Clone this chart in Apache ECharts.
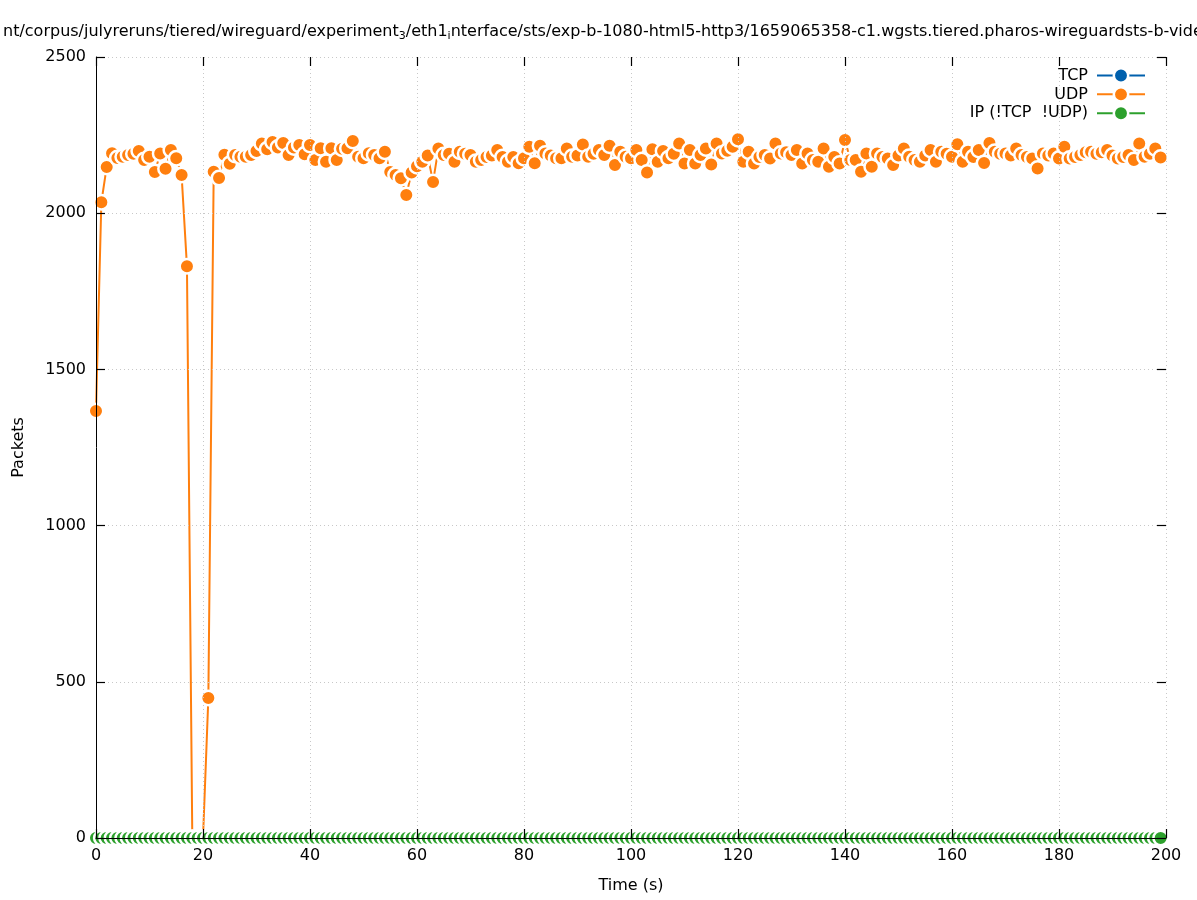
<!DOCTYPE html>
<html>
<head>
<meta charset="utf-8">
<script src="https://cdn.jsdelivr.net/npm/echarts@6/dist/echarts.min.js"></script>
<style>
html,body{margin:0;padding:0;background:#fff;}
#chart{width:1197px;height:900px;}
</style>
</head>
<body>
<div id="chart"></div>
<script>
// ---- data ----
const times = Array.from({length: 200}, (_, i) => i);
const udpValues = [
1367,2035,2148,2192,2177,2181,2186,2190,2199,2170,
2181,2132,2191,2142,2202,2176,2122,1830,0,0,
0,448,2133,2113,2187,2158,2186,2181,2181,2186,
2199,2223,2205,2228,2210,2225,2186,2210,2218,2189,
2218,2170,2208,2165,2208,2170,2206,2208,2231,2181,
2176,2192,2186,2176,2197,2132,2122,2112,2058,2130,
2150,2165,2185,2100,2207,2186,2190,2165,2197,2190,
2186,2165,2170,2180,2185,2202,2180,2165,2180,2160,
2176,2213,2160,2216,2191,2185,2176,2176,2207,2181,
2185,2220,2181,2190,2202,2186,2216,2154,2197,2181,
2176,2202,2170,2130,2205,2165,2199,2176,2190,2223,
2159,2202,2159,2186,2207,2156,2223,2191,2200,2213,
2237,2165,2197,2159,2180,2186,2175,2223,2191,2195,
2186,2202,2159,2191,2170,2165,2207,2149,2180,2159,
2234,2170,2170,2133,2191,2149,2191,2180,2175,2154,
2185,2207,2181,2170,2165,2185,2202,2165,2197,2190,
2181,2221,2165,2197,2180,2202,2161,2225,2197,2190,
2191,2185,2207,2186,2180,2175,2143,2191,2185,2191,
2175,2213,2175,2180,2186,2195,2197,2190,2195,2202,
2185,2175,2180,2186,2170,2223,2181,2190,2207,2178
];
const tcpValues = times.map(() => 0);
const ipValues = times.map(() => 0);
const seriesNames = ['TCP', 'UDP', 'IP (!TCP  !UDP)'];
const seriesColors = ['#0060ad', '#ff7f0e', '#2ca02c'];
const xTicks = [0, 200, 20];
const yTicks = [0, 2500, 500];

const FONT = 'DejaVu Sans';
function pairs(vals) { return times.map((t, i) => [t, vals[i]]); }
function mkSeries(name, vals, color) {
  return {
    name: name,
    type: 'line',
    data: pairs(vals),
    showAllSymbol: true,
    symbol: 'circle',
    symbolSize: 14.5,
    itemStyle: { color: color, borderColor: '#ffffff', borderWidth: 2.5 },
    lineStyle: { color: color, width: 2 },
    emphasis: { disabled: true },
    animation: false
  };
}

const chart = echarts.init(document.getElementById('chart'), null, { renderer: 'canvas' });
const gridLine = { show: true, lineStyle: { color: '#c8c8c8', type: [1, 3], width: 1 } };
const tickStyle = { show: true, inside: true, length: 9, lineStyle: { color: '#000', width: 1.2 } };
chart.setOption({
  animation: false,
  backgroundColor: '#ffffff',
  textStyle: { fontFamily: FONT, color: '#000' },
  title: {
    text: '{n|nt/corpus/julyreruns/tiered/wireguard/experiment}{s|3}{n|/eth1}{s|i}{n|nterface/sts/exp-b-1080-html5-http3/1659065358-c1.wgsts.tiered.pharos-wireguardsts-b-vide}',
    left: -2,
    top: 17,
    textStyle: {
      fontWeight: 'normal',
      rich: {
        n: { fontFamily: FONT, fontSize: 16, fontWeight: 'normal', color: '#000', lineHeight: 20 },
        s: { fontFamily: FONT, fontSize: 11, fontWeight: 'normal', color: '#000', lineHeight: 11, verticalAlign: 'bottom' }
      }
    }
  },
  legend: {
    data: seriesNames,
    orient: 'vertical',
    right: 46,
    top: 62,
    align: 'right',
    itemWidth: 48,
    itemHeight: 18,
    itemGap: 2,
    itemStyle: { borderColor: '#ffffff', borderWidth: 2.5 },
    textStyle: { fontFamily: FONT, fontSize: 16, color: '#000', padding: [0, 4, 0, 0] },
    selectedMode: false
  },
  grid: { left: 96, right: 31, top: 57, bottom: 62, containLabel: false },
  xAxis: [{
    type: 'value', min: xTicks[0], max: xTicks[1], interval: xTicks[2],
    position: 'bottom', z: 10,
    name: 'Time (s)', nameLocation: 'middle', nameGap: 40,
    nameTextStyle: { fontFamily: FONT, fontSize: 16, color: '#000' },
    axisLine: { show: true, onZero: false, lineStyle: { color: '#000', width: 1 } },
    axisTick: tickStyle,
    axisLabel: { fontFamily: FONT, fontSize: 16, color: '#000', margin: 10, formatter: v => String(v) },
    splitLine: gridLine
  }, {
    type: 'value', min: xTicks[0], max: xTicks[1], interval: xTicks[2],
    position: 'top', z: 10,
    axisLine: { show: false, onZero: false },
    axisTick: tickStyle,
    axisLabel: { show: false },
    splitLine: { show: false }
  }],
  yAxis: [{
    type: 'value', min: yTicks[0], max: yTicks[1], interval: yTicks[2],
    position: 'left', z: 10,
    name: 'Packets', nameLocation: 'middle', nameGap: 69, nameRotate: 90,
    nameTextStyle: { fontFamily: FONT, fontSize: 16, color: '#000' },
    axisLine: { show: true, onZero: false, lineStyle: { color: '#000', width: 1 } },
    axisTick: tickStyle,
    axisLabel: { fontFamily: FONT, fontSize: 16, color: '#000', margin: 10, formatter: v => String(v) },
    splitLine: gridLine
  }, {
    type: 'value', min: yTicks[0], max: yTicks[1], interval: yTicks[2],
    position: 'right', z: 10,
    axisLine: { show: false, onZero: false },
    axisTick: tickStyle,
    axisLabel: { show: false },
    splitLine: { show: false }
  }],
  series: [
    mkSeries(seriesNames[0], tcpValues, seriesColors[0]),
    mkSeries(seriesNames[1], udpValues, seriesColors[1]),
    mkSeries(seriesNames[2], ipValues, seriesColors[2])
  ]
});
</script>
</body>
</html>
